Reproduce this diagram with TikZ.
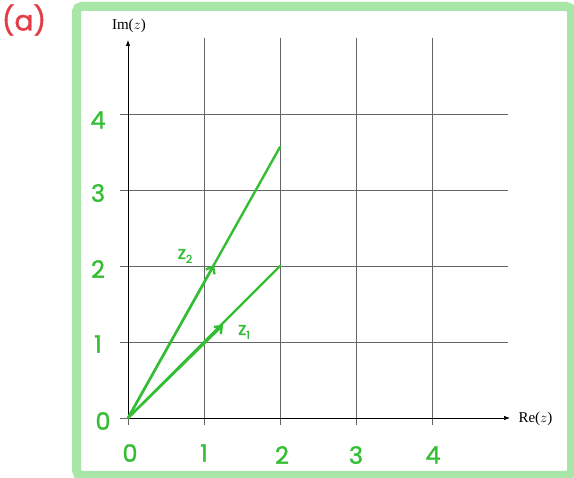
\documentclass[tikz,border=0pt]{standalone}
\usepackage{fontspec}
\newfontfamily\hand[FakeBold=1.2]{Poppins}
\setmainfont{Liberation Serif}
\usetikzlibrary{arrows.meta}
\definecolor{frameg}{RGB}{168,230,168}
\definecolor{vecg}{RGB}{52,190,52}
\definecolor{reda}{RGB}{228,60,70}
\definecolor{gridc}{RGB}{100,100,100}
\tikzset{
  gridline/.style={draw=gridc, line width=0.6pt},
  axis/.style={draw=black, line width=0.7pt, -{Latex[length=6pt,width=4.5pt]}},
  vec/.style={draw=vecg, line width=2.4pt, line cap=round},
  midarrow/.style={draw=vecg, line width=2.4pt, line cap=round, -{Straight Barb[length=6pt,width=10pt]}},
  num/.style={text=vecg, font=\hand\fontsize{24}{24}\selectfont},
  zlab/.style={text=vecg, font=\hand\fontsize{18}{18}\selectfont},
  axlabel/.style={text=black, font=\fontsize{15}{15}\selectfont},
}
\begin{document}
\begin{tikzpicture}[x=1pt,y=-1pt]
\useasboundingbox (0,0) rectangle (574,478);
\fill[white] (0,0) rectangle (574,478);
\draw[frameg, line width=9pt, rounded corners=5pt] (76.5,6.5) rectangle (571.5,475.5);
% grid
\foreach \x in {204,280,356,432} \draw[gridline] (\x,38) -- (\x,425);
\foreach \y in {114,190,266,342} \draw[gridline] (120,\y) -- (508,\y);
\draw[gridline] (128,418) -- (128,425);
\draw[gridline] (120,418) -- (128,418);
% axes
\coordinate (O) at (128,418);
\coordinate (ytop) at (128,40);
\coordinate (xend) at (510,418);
\draw[axis] (O) -- (ytop);
\draw[axis] (O) -- (xend);
\node[axlabel] (im) at (129,26) {Im($z$)};
\node[axlabel, anchor=west] (re) at (515,419) {Re($z$)};
% vectors
\coordinate (z1) at (280,266);
\coordinate (z2) at (280,147);
\coordinate (m1) at (223,325);
\coordinate (m2) at (214,265);
\draw[midarrow] (O) -- (m1);
\draw[midarrow] (O) -- (m2);
\draw[vec] (O) -- (z1);
\draw[vec] (O) -- (z2);
\node[zlab] (lz2) at (185,256) {z\raisebox{-4pt}{\fontsize{11}{11}\selectfont 2}};
\node[zlab] (lz1) at (244,332) {z\raisebox{-4pt}{\fontsize{11}{11}\selectfont 1}};
% y labels
\node[num] (y4) at (98,120) {4};
\node[num] (y3) at (98,193) {3};
\node[num] (y2) at (98,269) {2};
\node[num] (y1) at (98,344) {1};
\node[num] (y0) at (103,421) {0};
% x labels
\node[num] (x0) at (130,453) {0};
\node[num] (x1) at (204,453) {1};
\node[num] (x2) at (282,455) {2};
\node[num] (x3) at (356,455) {3};
\node[num] (x4) at (433,455) {4};
\node[text=reda, font=\hand\fontsize{28}{28}\selectfont] (a) at (24,20) {(a)};
\end{tikzpicture}
\end{document}
